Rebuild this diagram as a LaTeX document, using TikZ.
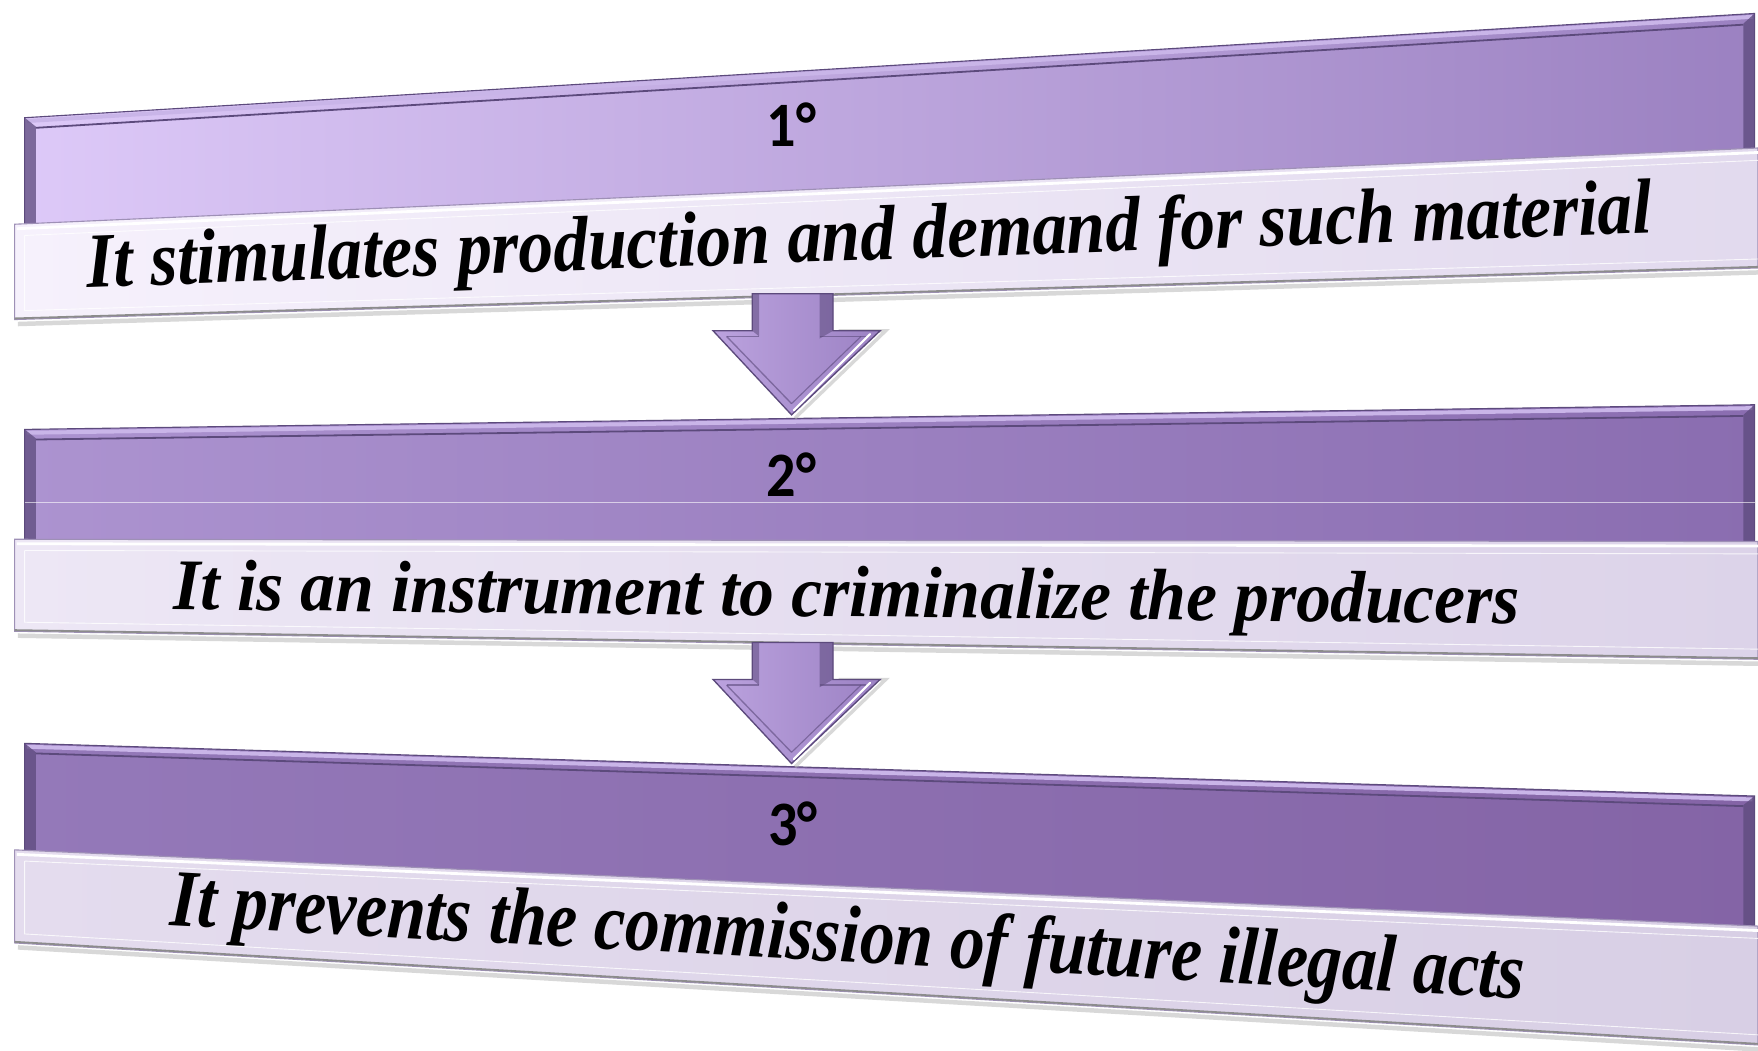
\documentclass[tikz,border=0pt]{standalone}
\usepackage{fontspec}
\setmainfont{Liberation Serif}
\newfontfamily\numfont{Carlito}
\usetikzlibrary{calc}
\definecolor{hOneL}{HTML}{DDC9F8}
\definecolor{hOneR}{HTML}{9B81C1}
\definecolor{hTwoL}{HTML}{AC93D0}
\definecolor{hTwoR}{HTML}{8A6DB0}
\definecolor{hThrL}{HTML}{9479B9}
\definecolor{hThrR}{HTML}{8464A6}
\definecolor{bOneL}{HTML}{F6F1FC}
\definecolor{bOneR}{HTML}{E2DAEE}
\definecolor{bTwoL}{HTML}{EDE7F5}
\definecolor{bTwoR}{HTML}{DCD3E9}
\definecolor{bThrL}{HTML}{E4DCEE}
\definecolor{bThrR}{HTML}{D8CFE5}
\definecolor{rimdark}{HTML}{5C4A7C}
\definecolor{rimlight}{HTML}{C9B5E8}
\definecolor{bandedge}{HTML}{9E90B6}
\definecolor{arrL}{HTML}{BBA2DE}
\definecolor{arrR}{HTML}{9C82C4}
\tikzset{
  hdrbox/.style={draw=rimdark, line width=1pt},
  rimtop/.style={draw=rimlight, line width=3.5pt},
  riminner/.style={draw=rimdark, line width=1.6pt},
  sidestrip/.style={fill=rimdark, opacity=0.75},
  bandbox/.style={draw=bandedge, line width=1pt},
  bandhi/.style={draw=white, line width=2.5pt},
  bandlo/.style={draw=black!45, line width=1.6pt},
  bandshadow/.style={draw=black!25, line width=4pt, opacity=0.6},
  bandinner/.style={draw=white, line width=0.8pt, opacity=0.8},
  bandtxt/.style={font=\bfseries\itshape\fontsize{60}{60}\selectfont, anchor=base, inner sep=0pt, text=black},
  numtxt/.style={font=\numfont\bfseries\fontsize{56}{56}\selectfont, anchor=base, inner sep=0pt, text=black},
  arrowbody/.style={left color=arrL, right color=arrR, draw=rimdark, line width=1.2pt},
  arrowhi/.style={draw=white, line width=2pt, line cap=round},
  arrowshade/.style={fill=rimdark, opacity=0.55},
  arrowshadow/.style={draw=black!30, line width=3pt, opacity=0.5},
}
\newcommand\mydownarrow{%
  \draw[arrowshadow] (42,-75) -- (84,-75) -- (3,3);
  \path[arrowbody] (-35,-108) -- (37,-108) -- (37,-75) -- (79,-75) -- (0,0) -- (-70,-75) -- (-35,-75) -- cycle;
  \fill[arrowshade] (25,-108) -- (37,-108) -- (37,-75) -- (25,-68) -- cycle;
  \fill[arrowshade] (-35,-108) -- (-29,-108) -- (-29,-70) -- (-35,-75) -- cycle;
  \draw[rimdark, line width=1.2pt, opacity=0.6] (-58,-70) -- (-29,-70) (25,-70) -- (66,-70);
  \draw[rimdark, line width=1.2pt, opacity=0.6] (-58,-70) -- (0,-10);
  \draw[arrowhi] (70,-72) -- (2,-4);
  \draw[rimdark, line width=1pt, opacity=0.6] (62,-70) -- (0,-10);
}
\begin{document}
\begin{tikzpicture}[x=1pt,y=-1pt]
\useasboundingbox (0,0) rectangle (1568,937);
\fill[white] (0,0) rectangle (1568,937);

% ---------- Panel 1 ----------
\path[hdrbox, left color=hOneL, right color=hOneR] (22,105) -- (1565,12) -- (1565,180) -- (22,240) -- cycle;
\draw[rimtop] (24,108) -- (1563,15);
\draw[riminner] (32,114) -- (1555,22);
\fill[sidestrip] (22,105) -- (32,113) -- (32,240) -- (22,240) -- cycle;
\fill[sidestrip] (1565,12) -- (1555,21) -- (1555,180) -- (1565,180) -- cycle;

\draw[bandshadow] (16,289) -- (1568,243);
\path[bandbox, left color=bOneL, right color=bOneR] (13,200) -- (1568,132) -- (1568,239) -- (13,285) -- cycle;
\draw[bandhi] (15,204) -- (1568,136);
\draw[bandlo] (13,284) -- (1568,238);
\draw[bandinner] (22,210) -- (1568,143) (22,210) -- (22,277) -- (1568,231);

\node[bandtxt, rotate=2] (t1) at (776,232) {\resizebox{1397pt}{49pt}{It stimulates production and demand for such material}};
\node[numtxt] (n1) at (706,131) {\resizebox{44pt}{39pt}{1°}};

% ---------- Panel 2 ----------
\path[hdrbox, left color=hTwoL, right color=hTwoR] (22,383) -- (1565,361) -- (1565,530) -- (22,520) -- cycle;
\draw[rimtop] (24,386) -- (1563,364);
\draw[riminner] (32,392) -- (1555,371);
\fill[sidestrip] (22,383) -- (32,391) -- (32,520) -- (22,520) -- cycle;
\fill[sidestrip] (1565,361) -- (1555,370) -- (1555,530) -- (1565,530) -- cycle;
\draw[white, line width=0.7pt, opacity=0.6] (22,448) -- (1565,448);

\draw[bandshadow] (16,567) -- (1568,592);
\path[bandbox, left color=bTwoL, right color=bTwoR] (13,481) -- (1568,483) -- (1568,588) -- (13,563) -- cycle;
\draw[bandhi] (15,485) -- (1568,487);
\draw[bandlo] (13,562) -- (1568,587);
\draw[bandinner] (22,491) -- (1568,494) (22,491) -- (22,555) -- (1568,579);

\node[bandtxt, rotate=-0.6] (t2) at (755,550) {\resizebox{1200pt}{45pt}{It is an instrument to criminalize the producers}};
\node[numtxt] (n2) at (706,443) {\resizebox{44pt}{39pt}{2°}};

% ---------- Panel 3 ----------
\path[hdrbox, left color=hThrL, right color=hThrR] (22,663) -- (1565,710) -- (1565,870) -- (22,800) -- cycle;
\draw[rimtop] (24,666) -- (1563,713);
\draw[riminner] (32,672) -- (1555,719);
\fill[sidestrip] (22,663) -- (32,671) -- (32,800) -- (22,800) -- cycle;
\fill[sidestrip] (1565,710) -- (1555,718) -- (1555,870) -- (1565,870) -- cycle;

\draw[bandshadow] (16,845) -- (1568,936);
\path[bandbox, left color=bThrL, right color=bThrR] (13,758) -- (1568,826) -- (1568,932) -- (13,841) -- cycle;
\draw[bandhi] (15,762) -- (1568,830);
\draw[bandlo] (13,840) -- (1568,931);
\draw[bandinner] (22,768) -- (1568,837) (22,768) -- (22,833) -- (1568,923);

\node[bandtxt, rotate=-3.1] (t3) at (755,858) {\resizebox{1210pt}{51pt}{It prevents the commission of future illegal acts}};
\node[numtxt] (n3) at (707,754) {\resizebox{44pt}{39pt}{3°}};

% ---------- Arrows ----------
\coordinate (a1) at (706,370);
\coordinate (a2) at (706,681);
\begin{scope}[shift={(a1)}]
  \mydownarrow
\end{scope}
\begin{scope}[shift={(a2)}]
  \mydownarrow
\end{scope}
\end{tikzpicture}
\end{document}
